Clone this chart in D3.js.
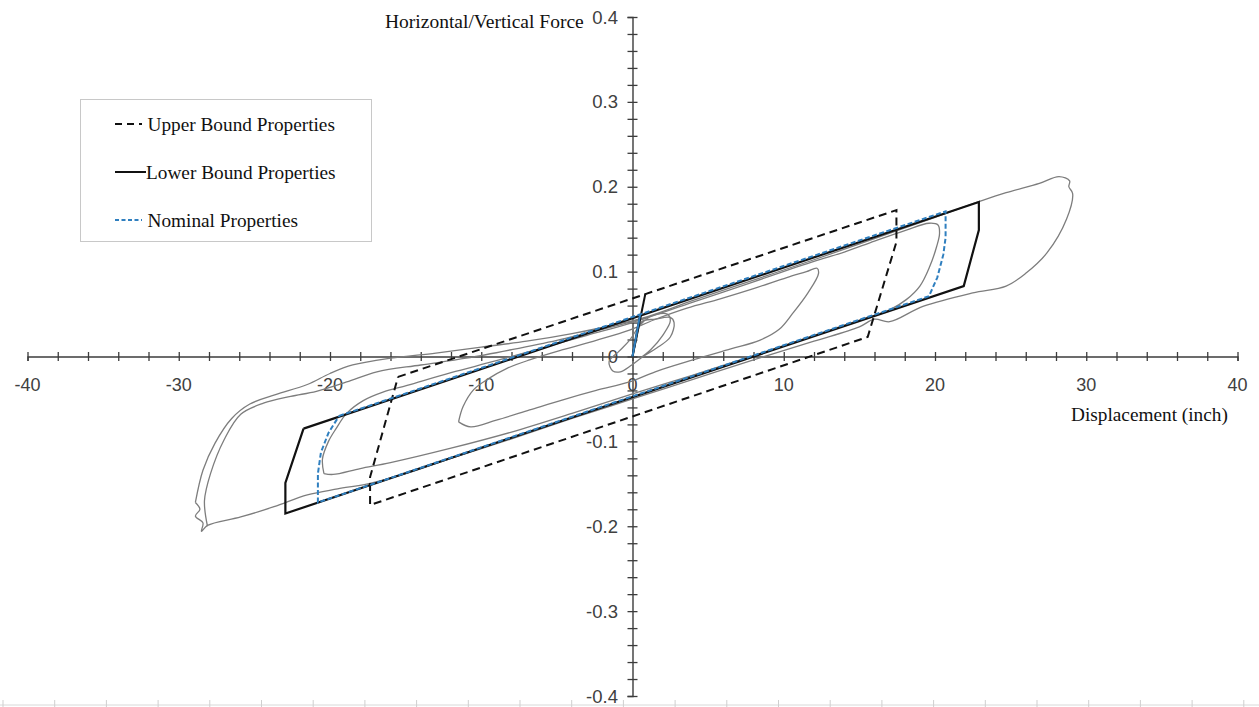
<!DOCTYPE html>
<html>
<head>
<meta charset="utf-8">
<script src="https://cdn.jsdelivr.net/npm/d3@7"></script>
<style>
  html, body { margin: 0; padding: 0; background: #fff; }
  svg { display: block; }
</style>
</head>
<body>
<svg id="chart" width="1259" height="707"></svg>
<script>
// Axis ranges and tick labels
const xDomain = [-40, 40];
const yDomain = [-0.4, 0.4];
const xTickLabels = [-40, -30, -20, -10, 0, 10, 20, 30, 40];
const yTickLabels = ["-0.4", "-0.3", "-0.2", "-0.1", "0", "0.1", "0.2", "0.3", "0.4"];
const yTickValues = [-0.4, -0.3, -0.2, -0.1, 0, 0.1, 0.2, 0.3, 0.4];

// Bilinear model loops [displacement (in), force ratio]
const upperBound = [[-15.5, -0.024], [17.45, 0.1725], [17.45, 0.135], [15.55, 0.023],
  [-17.35, -0.175], [-17.35, -0.142], [-15.5, -0.024]];
const upperBoundInitial = [[0, 0], [0.85, 0.074]];

const lowerBound = [[-21.75, -0.085], [22.9, 0.182], [22.9, 0.149], [21.9, 0.083],
  [-22.95, -0.185], [-22.95, -0.149], [-21.75, -0.085]];
const lowerBoundInitial = [[0, 0], [0.5, 0.049]];

const nominal = [[-19.4, -0.070], [20.7, 0.171], [20.7, 0.14], [20.55, 0.12], [20.15, 0.093],
  [19.6, 0.071], [-20.8, -0.172], [-20.8, -0.138], [-20.6, -0.113], [-20.1, -0.09], [-19.4, -0.070]];
const nominalInitial = [[0, 0], [0.5, 0.049]];

// Measured hysteresis cycles
const testSmall = [[0, 0], [0.25, 0.02], [0.6, 0.041], [1.5, 0.044], [2.5, 0.046], [2.75, 0.04],
  [2.5, 0.023], [1.6, 0.01], [0.7, 0.0], [-0.05, -0.01], [-0.8, -0.018], [-1.3, -0.017],
  [-1.55, -0.006], [-0.9, 0.006], [-0.2, 0.019], [0.5, 0.037], [1.3, 0.048], [2.3, 0.05],
  [2.5, 0.042], [2.0, 0.025], [1.2, 0.008], [0.5, -0.002]];

const testMedium = [[-11.5, -0.077], [-11.2, -0.059], [-10.5, -0.039], [-9.6, -0.027],
  [-8.3, -0.014], [-6.8, -0.004], [-4.6, 0.008], [-2.4, 0.019], [-0.2, 0.031], [1.4, 0.043],
  [3.6, 0.057], [5.8, 0.068], [8, 0.08], [10.2, 0.093], [11.5, 0.1], [12.2, 0.104],
  [12.3, 0.098], [11.6, 0.075], [10.6, 0.051], [9.7, 0.032], [8.4, 0.019], [6.5, 0.009],
  [4, -0.004], [1.5, -0.018], [-0.2, -0.03], [-2.4, -0.04], [-4.6, -0.051], [-6.8, -0.063],
  [-9, -0.075], [-10.7, -0.083], [-11.5, -0.077]];

const testLarge = [[-20.4, -0.138], [-20.5, -0.121], [-20.1, -0.1], [-19.6, -0.085],
  [-18.9, -0.067], [-17.8, -0.052], [-16.5, -0.042], [-14.9, -0.034], [-12, -0.019],
  [-9, -0.005], [-6, 0.01], [-3, 0.025], [0, 0.04], [4, 0.064], [8, 0.088], [12, 0.112],
  [14, 0.123], [16, 0.136], [18.1, 0.149], [19.6, 0.157], [20.2, 0.155], [20.3, 0.145],
  [20.1, 0.129], [19.65, 0.106], [19, 0.083], [18.1, 0.067], [17, 0.055], [15, 0.043],
  [12, 0.025], [8, 0.001], [4, -0.022], [0, -0.044], [-4, -0.067], [-8, -0.089],
  [-12, -0.108], [-16, -0.125], [-18, -0.132], [-19.8, -0.139], [-20.4, -0.138]];

const testMax = [[-28.9, -0.172], [-28.4, -0.134], [-27.6, -0.102], [-26.5, -0.073],
  [-25.3, -0.056], [-23.6, -0.045], [-21.5, -0.033], [-20, -0.02], [-18.5, -0.01],
  [-16, -0.002], [-13, 0.004], [-10, 0.011], [-7, 0.018], [-4, 0.027], [-1, 0.038],
  [1, 0.047], [4, 0.066], [8, 0.09], [12, 0.114], [16, 0.139], [20, 0.164], [23, 0.183],
  [24.7, 0.193], [26.9, 0.204], [28.2, 0.212], [28.9, 0.207], [28.85, 0.2], [29.1, 0.192],
  [28.7, 0.162], [27.4, 0.122], [26, 0.098], [24.7, 0.083], [22.5, 0.075], [19.2, 0.059],
  [17, 0.041], [16, 0.044], [15, 0.035], [12, 0.018], [8, -0.004], [4, -0.027], [0, -0.05],
  [-4, -0.073], [-8, -0.097], [-12, -0.12], [-15, -0.138], [-17.5, -0.15], [-19.5, -0.156],
  [-21.5, -0.163], [-23.7, -0.177], [-25.9, -0.189], [-28.1, -0.199], [-28.5, -0.206],
  [-28.4, -0.196], [-28.9, -0.188], [-28.6, -0.18], [-28.9, -0.172]];

const testMaxRepeat = [[-28.1, -0.2], [-28.3, -0.17], [-27.9, -0.138], [-27, -0.098],
  [-25.9, -0.068], [-24.4, -0.055], [-22.6, -0.047], [-20.9, -0.041], [-18.9, -0.03],
  [-16.9, -0.018], [-14, -0.01], [-11, -0.002], [-8, 0.008], [-5, 0.019], [-2, 0.032],
  [1, 0.046]];

const legendItems = [
  { label: "Upper Bound Properties", color: "#111", dash: "7,5", width: 2 },
  { label: "Lower Bound Properties", color: "#111", dash: null, width: 2 },
  { label: "Nominal Properties", color: "#2f7fbf", dash: "4,2.5", width: 2 }
];

const svg = d3.select("#chart");
const W = 1259, H = 707;

const x = d3.scaleLinear().domain(xDomain).range([27.5, 1237.5]);
const y = d3.scaleLinear().domain(yDomain).range([696, 17]);

const axisColor = "#3c3c3c";
const labelFont = "'Liberation Sans', Arial, sans-serif";
const serifFont = "'Liberation Serif', 'Times New Roman', serif";

// Faint rule along the lower edge
const edge = d3.scaleLinear().domain([0, 24]).range([3, 3 + 24 * 51.7]);
svg.append("line").attr("x1", 0).attr("x2", W).attr("y1", 705).attr("y2", 705)
  .attr("stroke", "#d8d8d8").attr("stroke-width", 1);
svg.append("g").selectAll("line").data(d3.range(0, 25)).join("line")
  .attr("x1", d => edge(d)).attr("x2", d => edge(d))
  .attr("y1", 700).attr("y2", 707)
  .attr("stroke", "#cfcfcf").attr("stroke-width", 1);

// Axes crossing at the origin, ticks straddling each line
const gx = svg.append("g").attr("transform", `translate(0,${y(0)})`)
  .call(d3.axisBottom(x).tickValues(d3.range(-40, 41, 2)).tickSize(4.5).tickFormat(""));
gx.select(".domain").attr("stroke", axisColor).attr("stroke-width", 1.4);
gx.selectAll(".tick line").attr("y1", -4.5).attr("y2", 4.5)
  .attr("stroke", axisColor).attr("stroke-width", 1.3);

const gy = svg.append("g").attr("transform", `translate(${x(0)},0)`)
  .call(d3.axisLeft(y).tickValues(d3.range(-20, 21, 1).map(v => v / 50)).tickSize(5).tickFormat(""));
gy.select(".domain").attr("stroke", axisColor).attr("stroke-width", 1.4);
gy.selectAll(".tick line").attr("x1", -5).attr("x2", 5)
  .attr("stroke", axisColor).attr("stroke-width", 1.3);

// Tick labels
svg.append("g").selectAll("text").data(xTickLabels).join("text")
  .attr("x", d => x(d)).attr("y", y(0) + 34)
  .attr("text-anchor", "middle")
  .attr("font-family", labelFont).attr("font-size", 18).attr("fill", "#404040")
  .text(d => d);

svg.append("g").selectAll("text").data(yTickValues).join("text")
  .attr("x", x(0) - 14.5).attr("y", d => y(d) + 6.5)
  .attr("text-anchor", "end")
  .attr("font-family", labelFont).attr("font-size", 18.5).attr("fill", "#404040")
  .text((d, i) => yTickLabels[i]);

// Axis titles
svg.append("text").attr("x", 385).attr("y", 28)
  .attr("font-family", serifFont).attr("font-size", 19.5).attr("fill", "#111")
  .text("Horizontal/Vertical Force");
svg.append("text").attr("x", 1071).attr("y", 421)
  .attr("font-family", serifFont).attr("font-size", 19.3).attr("fill", "#111")
  .text("Displacement (inch)");

// Curves
const smooth = d3.line().x(d => x(d[0])).y(d => y(d[1])).curve(d3.curveCatmullRom.alpha(0.5));
const straight = d3.line().x(d => x(d[0])).y(d => y(d[1]));

const plot = svg.append("g");
[testMax, testMaxRepeat, testLarge, testMedium, testSmall].forEach(series => {
  plot.append("path").attr("d", smooth(series))
    .attr("fill", "none").attr("stroke", "#7d7d7d").attr("stroke-width", 1.3)
    .attr("stroke-linejoin", "round");
});

plot.append("path").attr("d", straight(upperBound))
  .attr("fill", "none").attr("stroke", "#111").attr("stroke-width", 2)
  .attr("stroke-dasharray", "8,5");
plot.append("path").attr("d", straight(upperBoundInitial))
  .attr("fill", "none").attr("stroke", "#111").attr("stroke-width", 2);

plot.append("path").attr("d", straight(lowerBound))
  .attr("fill", "none").attr("stroke", "#111").attr("stroke-width", 2.2);
plot.append("path").attr("d", straight(lowerBoundInitial))
  .attr("fill", "none").attr("stroke", "#111").attr("stroke-width", 2);

plot.append("path").attr("d", straight(nominal))
  .attr("fill", "none").attr("stroke", "#2f7fbf").attr("stroke-width", 2)
  .attr("stroke-dasharray", "5,2.5");
plot.append("path").attr("d", straight(nominalInitial))
  .attr("fill", "none").attr("stroke", "#2f7fbf").attr("stroke-width", 2);

// Legend
const legend = svg.append("g");
legend.append("rect").attr("x", 80.5).attr("y", 99.5).attr("width", 291).attr("height", 142)
  .attr("fill", "#fff").attr("stroke", "#c8c8c8").attr("stroke-width", 1);
const rows = legend.selectAll("g.row").data(legendItems).join("g")
  .attr("class", "row")
  .attr("transform", (d, i) => `translate(0,${124 + i * 48})`);
rows.append("line").attr("x1", 115).attr("x2", d => d.dash ? 142 : 146)
  .attr("y1", 0).attr("y2", 0)
  .attr("stroke", d => d.color).attr("stroke-width", d => d.width)
  .attr("stroke-dasharray", d => d.dash);
rows.append("text").attr("x", (d, i) => i === 1 ? 146 : 147.5).attr("y", 6.5)
  .attr("font-family", serifFont).attr("font-size", 19.3).attr("fill", "#111")
  .text(d => d.label);
</script>
</body>
</html>
